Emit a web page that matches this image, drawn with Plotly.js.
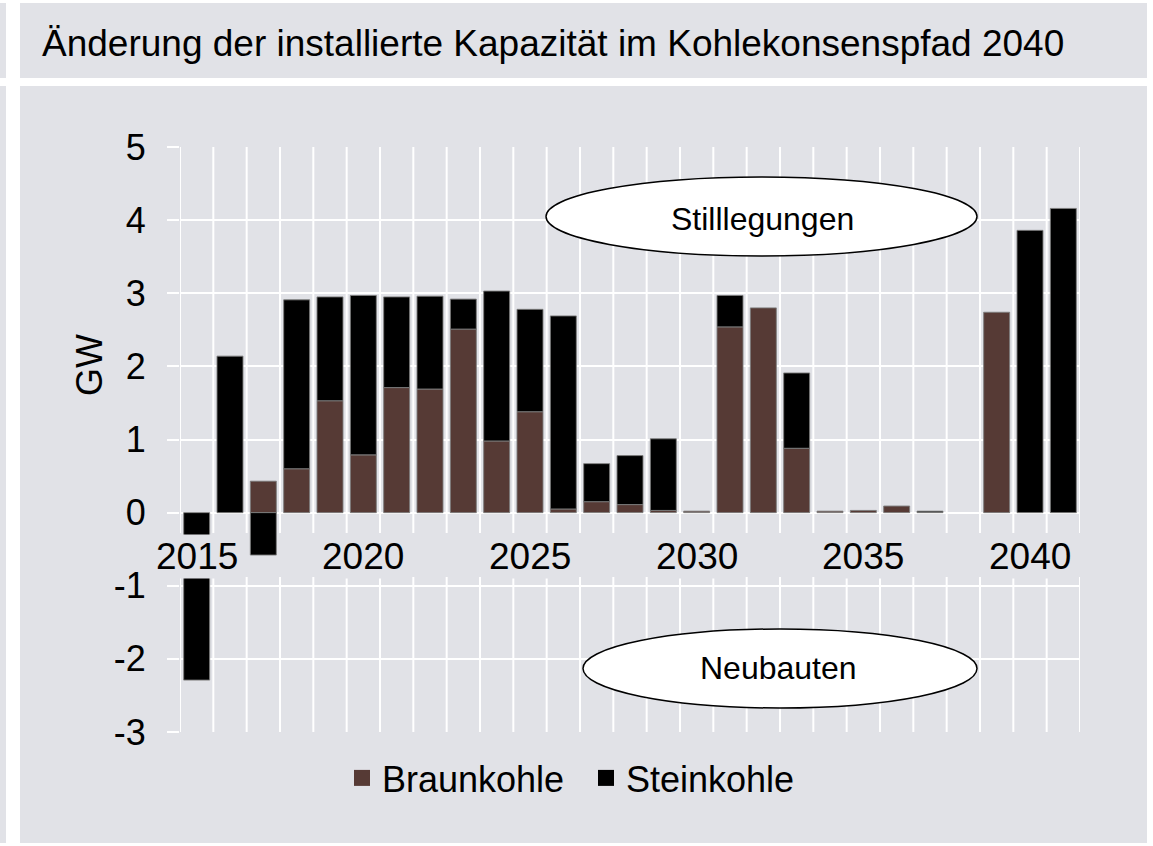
<!DOCTYPE html>
<html>
<head>
<meta charset="utf-8">
<script src="https://cdn.plot.ly/plotly-3.0.1.min.js"></script>
<style>html,body{margin:0;padding:0;background:#fff;}#chart{width:1153px;height:846px;}</style>
</head>
<body>
<div id="chart"></div>
<script>
// ---- data ----
const years = [2015,2016,2017,2018,2019,2020,2021,2022,2023,2024,2025,2026,2027,2028,2029,2030,2031,2032,2033,2034,2035,2036,2037,2038,2039,2040,2041];
const braunkohle = [null,null,0.43,0.60,1.53,0.79,1.71,1.69,2.51,0.98,1.38,0.05,0.15,0.11,0.03,0.02,2.54,2.80,0.88,0.02,0.03,0.09,null,null,2.74,null,null];
const steinkohle = [-2.29,2.14,-0.58,2.31,1.42,2.18,1.24,1.27,0.41,2.05,1.40,2.64,0.52,0.67,0.98,null,0.43,null,1.03,null,null,null,0.02,null,null,3.86,4.16];
const seriesNames = ["Braunkohle","Steinkohle"];
const yTicks = [-3,-2,-1,0,1,2,3,4,5];
const xTickYears = [2015,2020,2025,2030,2035,2040];
const titleText = "Änderung der installierte Kapazität im Kohlekonsenspfad 2040";
const yTitle = "GW";
const labelUp = "Stilllegungen";
const labelDown = "Neubauten";

// ---- styles ----
const FONT = "Liberation Sans, Arial, sans-serif";
const PANEL = "#e1e2e7";
const BROWN = "#563a35";
const BLACK = "#000000";
const OUTLINE = "rgba(125,125,125,0.9)";

// ---- pixel helpers (plot area: x 180..1080, y 147..732) ----
const L = 180, R = 1080, T = 147, B = 732;
const px = v => (v - L) / (R - L);
const py = v => (B - v) / (B - T);

const traces = [
  {type:"bar", x:years, y:braunkohle, name:seriesNames[0], marker:{color:BROWN, line:{color:OUTLINE, width:1}}, showlegend:false, hoverinfo:"x+y+name"},
  {type:"bar", x:years, y:steinkohle, name:seriesNames[1], marker:{color:BLACK, line:{color:OUTLINE, width:1}}, showlegend:false, hoverinfo:"x+y+name"},
  {type:"scatter", mode:"markers", x:[null], y:[null], name:seriesNames[0], marker:{symbol:"square", size:18, color:BROWN}, showlegend:true},
  {type:"scatter", mode:"markers", x:[null], y:[null], name:seriesNames[1], marker:{symbol:"square", size:18, color:BLACK}, showlegend:true}
];

const shapes = [];
// background panels
shapes.push({type:"rect", xref:"paper", yref:"paper", x0:px(20), x1:px(1147), y0:py(78), y1:py(3), fillcolor:PANEL, line:{width:0}, layer:"below"});
shapes.push({type:"rect", xref:"paper", yref:"paper", x0:px(20), x1:px(1147), y0:py(843), y1:py(86), fillcolor:PANEL, line:{width:0}, layer:"below"});
shapes.push({type:"rect", xref:"paper", yref:"paper", x0:px(0), x1:px(6), y0:py(78), y1:py(3), fillcolor:PANEL, line:{width:0}, layer:"below"});
shapes.push({type:"rect", xref:"paper", yref:"paper", x0:px(0), x1:px(6), y0:py(843), y1:py(86), fillcolor:PANEL, line:{width:0}, layer:"below"});
// vertical category gridlines (with gap behind the year labels)
const gapTop = -0.28, gapBot = -0.88;
for (let i = 0; i <= years.length; i++) {
  const xb = years[0] - 0.5 + i;
  shapes.push({type:"line", xref:"x", yref:"y", x0:xb, x1:xb, y0:5, y1:gapTop, line:{color:"#ffffff", width:2}, layer:"below"});
  shapes.push({type:"line", xref:"x", yref:"y", x0:xb, x1:xb, y0:gapBot, y1:-3, line:{color:"#ffffff", width:2}, layer:"below"});
}
// ellipses
shapes.push({type:"circle", xref:"paper", yref:"paper", x0:px(546), x1:px(977), y0:py(256), y1:py(177), fillcolor:"#ffffff", line:{color:"#000000", width:1.5}, layer:"above"});
shapes.push({type:"circle", xref:"paper", yref:"paper", x0:px(583), x1:px(977), y0:py(708), y1:py(629), fillcolor:"#ffffff", line:{color:"#000000", width:1.5}, layer:"above"});

const annotations = [];
xTickYears.forEach(yr => {
  annotations.push({x:yr, y:-0.6, xref:"x", yref:"y", text:String(yr), showarrow:false, xanchor:"center", yanchor:"middle",
    font:{family:FONT, size:37, color:"#000"}, bgcolor:PANEL, borderpad:1});
});
annotations.push({xref:"paper", yref:"paper", x:px(89), y:py(365), text:yTitle, textangle:-90, showarrow:false,
  xanchor:"center", yanchor:"middle", font:{family:FONT, size:36, color:"#000"}});
annotations.push({xref:"paper", yref:"paper", x:px(762), y:py(219), text:labelUp, showarrow:false,
  xanchor:"center", yanchor:"middle", font:{family:FONT, size:32, color:"#000"}});
annotations.push({xref:"paper", yref:"paper", x:px(778), y:py(668), text:labelDown, showarrow:false,
  xanchor:"center", yanchor:"middle", font:{family:FONT, size:32, color:"#000"}});

const layout = {
  width:1153, height:846,
  paper_bgcolor:"#ffffff", plot_bgcolor:"rgba(0,0,0,0)",
  margin:{l:L, r:1153-R, t:T, b:846-B, pad:0},
  font:{family:FONT, size:36, color:"#000"},
  title:{text:titleText, xref:"container", yref:"container", x:42/1153, y:1-43/846, xanchor:"left", yanchor:"middle",
    font:{family:FONT, size:37, color:"#000"}},
  barmode:"relative", bargap:0.22,
  xaxis:{range:[years[0]-0.5, years[years.length-1]+0.5], showgrid:false, zeroline:false, showticklabels:false, ticks:"", showline:false, fixedrange:true},
  yaxis:{range:[-3,5], tickvals:yTicks, ticktext:yTicks.map(String), showgrid:true, gridcolor:"#ffffff", gridwidth:2,
    zeroline:false, ticks:"outside", ticklen:12, tickwidth:2, tickcolor:"#ffffff", ticklabelstandoff:14,
    tickfont:{family:FONT, size:36, color:"#000"}, showline:false, fixedrange:true},
  showlegend:true,
  legend:{orientation:"h", x:px(342), xanchor:"left", y:py(778), yanchor:"middle", bgcolor:"rgba(0,0,0,0)",
    entrywidth:199, entrywidthmode:"pixels",
    font:{family:FONT, size:36, color:"#000"}, traceorder:"normal"},
  shapes:shapes, annotations:annotations
};

Plotly.newPlot("chart", traces, layout, {displayModeBar:false, staticPlot:true});
</script>
</body>
</html>
